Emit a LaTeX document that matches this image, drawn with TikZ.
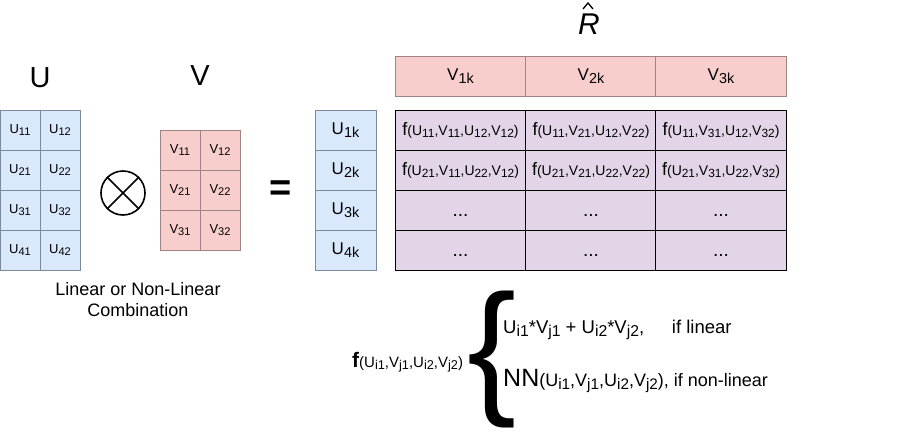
\documentclass[tikz,border=0pt]{standalone}
\usepackage{fontspec}
\setmainfont{Liberation Sans}
\definecolor{ublue}{HTML}{DAE8FC}
\definecolor{ubluedraw}{HTML}{7C8A9C}
\definecolor{vpink}{HTML}{F8CECC}
\definecolor{vpinkdraw}{HTML}{A08383}
\definecolor{rpurple}{HTML}{E1D5E7}
\newcommand\lo[1]{\raisebox{-0.3ex}{\scalebox{0.85}{#1}}}
\newcommand\fsz[1]{\fontsize{#1}{#1}\selectfont}
\begin{document}
\begin{tikzpicture}[x=1pt,y=-1pt,
  cellbase/.style={draw,inner sep=0pt,line width=1pt},
  ucell/.style={cellbase,draw=ubluedraw,fill=ublue,minimum width=40pt,minimum height=40pt,font=\fsz{13}},
  vcell/.style={cellbase,draw=vpinkdraw,fill=vpink,minimum width=40pt,minimum height=40pt,font=\fsz{13}},
  ukcell/.style={cellbase,draw=ubluedraw,fill=ublue,minimum width=61pt,minimum height=40pt,font=\fsz{17}},
  vkcell/.style={cellbase,draw=vpinkdraw,fill=vpink,minimum width=130.3pt,minimum height=40pt,font=\fsz{17}},
  rcell/.style={cellbase,draw=black,fill=rpurple,minimum width=130.3pt,minimum height=40pt,font=\fsz{14}},
  dots/.style={inner sep=0pt,font=\fsz{19}},
  txt/.style={inner sep=0pt}]
\useasboundingbox (0,0) rectangle (919,442);
% U matrix
\foreach \r in {1,...,4}{
  \foreach \c in {1,2}{
    \node[ucell] (u\r\c) at ({20+40*(\c-1)},{130+40*(\r-1)}) {U\lo{\r\c}};
  }
}
% V matrix
\foreach \r in {1,...,3}{
  \foreach \c in {1,2}{
    \node[vcell] (v\r\c) at ({180+40*(\c-1)},{150+40*(\r-1)}) {V\lo{\r\c}};
  }
}
% labels
\node[txt] (ulab) at (40,78) {\fsz{29}U};
\node[txt] (vlab) at (200,76) {\fsz{29}V};
% otimes
\node[circle,draw,line width=1.6pt,minimum size=44pt,inner sep=0pt] (ot) at (123,193) {};
\draw[line width=1.6pt] (ot.north west) -- (ot.south east);
\draw[line width=1.6pt] (ot.north east) -- (ot.south west);
% equals
\node[txt] (eq) at (281,191) {\fsz{38}\bfseries =};
% caption
\node[txt,align=center,font=\fontsize{18}{21}\selectfont] (cap) at (138,300) {Linear or Non-Linear\\Combination};
% U_k column
\foreach \r in {1,...,4}{
  \node[ukcell] (uk\r) at (345.5,{130+40*(\r-1)}) {U\lo{\r k}};
}
% V_k header
\node[vkcell] (vk1) at (460.5,76) {V\lo{1k}};
\node[vkcell] (vk2) at (591,76) {V\lo{2k}};
\node[vkcell] (vk3) at (721,76) {V\lo{3k}};
% R hat
\node[txt] (R) at (589,24) {\fsz{30}\itshape R};
\draw[line width=1.3pt] (583,9) -- (588,3) -- (593,9);
% R grid
\node[rcell] (r11) at (460.5,130) {{\fsz{18}f}(U\lo{11},V\lo{11},U\lo{12},V\lo{12})};
\node[rcell] (r12) at (591,130) {{\fsz{18}f}(U\lo{11},V\lo{21},U\lo{12},V\lo{22})};
\node[rcell] (r13) at (721,130) {{\fsz{18}f}(U\lo{11},V\lo{31},U\lo{12},V\lo{32})};
\node[rcell] (r21) at (460.5,170) {{\fsz{18}f}(U\lo{21},V\lo{11},U\lo{22},V\lo{12})};
\node[rcell] (r22) at (591,170) {{\fsz{18}f}(U\lo{21},V\lo{21},U\lo{22},V\lo{22})};
\node[rcell] (r23) at (721,170) {{\fsz{18}f}(U\lo{21},V\lo{31},U\lo{22},V\lo{32})};
\foreach \r/\y in {3/210,4/250}{
  \node[rcell] (r\r1) at (460.5,\y) {};
  \node[rcell] (r\r2) at (591,\y) {};
  \node[rcell] (r\r3) at (721,\y) {};
  \node[dots] at ([yshift=-5pt]r\r1.center) {...};
  \node[dots] at ([yshift=-5pt]r\r2.center) {...};
  \node[dots] at ([yshift=-5pt]r\r3.center) {...};
}
% formula
\node[txt,anchor=west] (fx) at (352,362) {{\fsz{21}\bfseries f}\fsz{15}(U\lo{i1},V\lo{j1},U\lo{i2},V\lo{j2})};
\node[txt] (br) at (492,359) {\fsz{147}\{};
\node[txt,anchor=west] (l1) at (503,330) {\fsz{18.5}U\lo{i1}*V\lo{j1} + U\lo{i2}*V\lo{j2},\hspace{1.5em}if linear};
\node[txt,anchor=west] (l2) at (503,381) {{\fsz{25}NN}\fsz{18}(U\lo{i1},V\lo{j1},U\lo{i2},V\lo{j2}), if non-linear};
\end{tikzpicture}
\end{document}
